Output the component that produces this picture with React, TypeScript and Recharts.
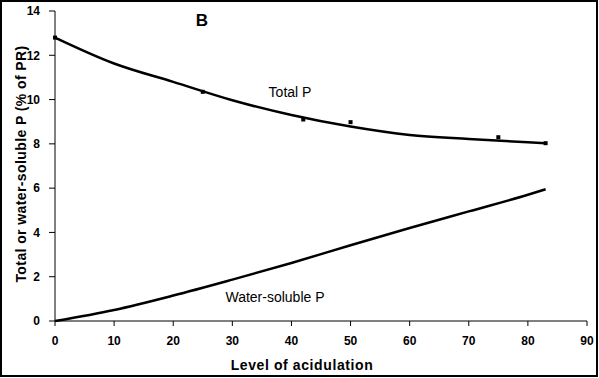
import { ComposedChart, Line, Scatter, XAxis, YAxis } from "recharts";

const levels = [0, 10, 20, 30, 40, 50, 60, 70, 80, 83];
const totalP = [12.8, 11.63, 10.8, 9.97, 9.3, 8.78, 8.4, 8.22, 8.07, 8.03];
const waterP = [0, 0.5, 1.15, 1.87, 2.62, 3.42, 4.2, 4.95, 5.7, 5.95];

const measuredLevels = [0, 25, 42, 50, 75, 83];
const measuredTotal = [12.8, 10.35, 9.1, 8.98, 8.3, 8.03];

const xTicks = [0, 10, 20, 30, 40, 50, 60, 70, 80, 90];
const yTicks = [0, 2, 4, 6, 8, 10, 12, 14];

const FONT = "'Liberation Sans', Arial, sans-serif";

const curveRows = levels.map((x, i) => ({ x, total: totalP[i], water: waterP[i] }));
const pointRows = measuredLevels.map((x, i) => ({ x, total: measuredTotal[i] }));

const tickStyle = { fontSize: 12, fontWeight: 700, fill: "#000", fontFamily: FONT };

function SquareDot(props: any) {
  const { cx, cy } = props;
  if (cx == null || cy == null) return null;
  return <rect x={cx - 2} y={cy - 2} width={4} height={4} fill="#000" />;
}

export default function App() {
  return (
    <div style={{ position: "absolute", left: 0, top: 0, width: 599, height: 378, background: "#fff", fontFamily: FONT }}>
      <ComposedChart
        width={599}
        height={378}
        data={curveRows}
        margin={{ top: 11, right: 12, left: 10, bottom: 27 }}
      >
        <XAxis
          dataKey="x"
          type="number"
          domain={[0, 90]}
          ticks={xTicks}
          tick={tickStyle}
          tickSize={5}
          tickMargin={10}
          stroke="#000"
          height={30}
        />
        <YAxis
          type="number"
          domain={[0, 14]}
          ticks={yTicks}
          tick={tickStyle}
          tickSize={6}
          tickMargin={9}
          stroke="#000"
          width={45}
        />
        <Line
          dataKey="total"
          type="monotone"
          stroke="#000"
          strokeWidth={2.5}
          dot={false}
          isAnimationActive={false}
        />
        <Line
          dataKey="water"
          type="monotone"
          stroke="#000"
          strokeWidth={2.5}
          dot={false}
          isAnimationActive={false}
        />
        <Scatter
          data={pointRows}
          dataKey="total"
          shape={SquareDot}
          isAnimationActive={false}
        />
      </ComposedChart>

      <svg width={599} height={378} style={{ position: "absolute", left: 0, top: 0, pointerEvents: "none" }}>
        <text x={202} y={26} textAnchor="middle" fontSize={17} fontWeight={700} fontFamily={FONT}>B</text>
        <text x={290} y={97} textAnchor="middle" fontSize={14} fontFamily={FONT}>Total P</text>
        <text x={275} y={302} textAnchor="middle" fontSize={14} fontFamily={FONT}>Water-soluble P</text>
        <text x={302} y={370} textAnchor="middle" fontSize={14} fontWeight={700} fontFamily={FONT} letterSpacing={0.6}>
          Level of acidulation
        </text>
        <text
          x={0}
          y={0}
          transform="translate(26,164) rotate(-90)"
          textAnchor="middle"
          fontSize={14}
          fontWeight={700}
          fontFamily={FONT}
          letterSpacing={0.4}
        >
          Total or water-soluble P (% of PR)
        </text>
      </svg>

      <div
        style={{
          position: "absolute",
          left: 0,
          top: 0,
          width: 598,
          height: 377,
          border: "2px solid #000",
          boxSizing: "border-box",
          pointerEvents: "none",
        }}
      />
    </div>
  );
}
